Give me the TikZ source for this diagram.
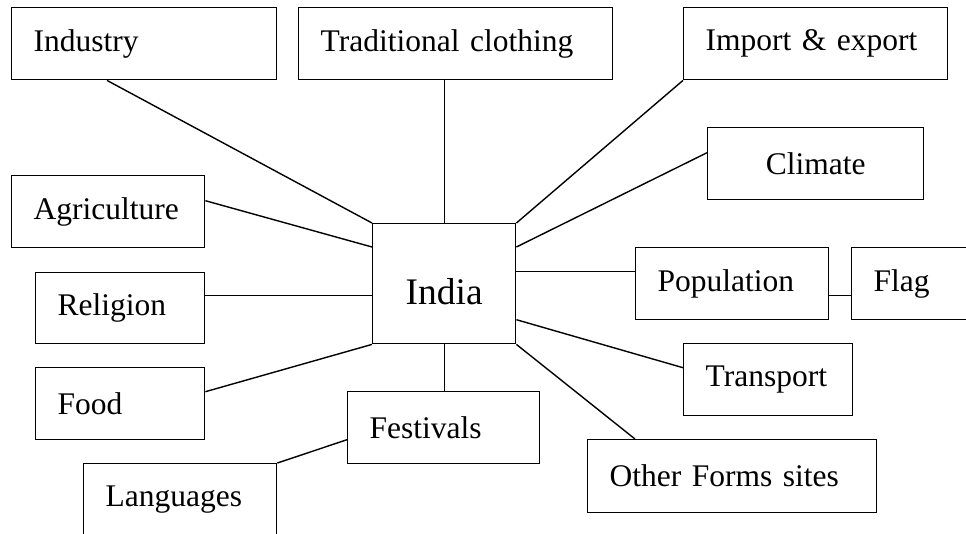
\documentclass[tikz,border=0pt]{standalone}
\usepackage{fontspec}
\setmainfont{Liberation Serif}
\usetikzlibrary{positioning}

\tikzset{
  box/.style={draw, line width=1.4pt, anchor=north west, minimum height=72pt,
    inner xsep=22pt, inner ysep=0pt, align=left,
    font=\fontsize{31.5}{38}\selectfont},
  link/.style={line width=1.4pt}
}

\begin{document}
\begin{tikzpicture}[x=1pt, y=-1pt]

\useasboundingbox (0,0) rectangle (966,533);

% Centre
\node[box, minimum width=143pt, minimum height=120pt, inner xsep=0pt, align=center,
  text height=42pt, text depth=0pt,
  font=\fontsize{37.5}{44}\selectfont] (india) at (372,223) {India};

% Topics round the centre
\node[box, text width=221pt] (industry) at (11,7) {Industry};
\node[box, text width=270pt] (clothing) at (298,7) {Traditional clothing};
\node[box, text width=220pt] (import) at (683,7) {Import \& export};
\node[box, text width=216pt, inner xsep=0pt, align=center] (climate) at (707,127) {Climate};
\node[box, text width=149pt] (agriculture) at (11,175) {Agriculture};
\node[box, text width=125pt, minimum height=71pt] (religion) at (35,272) {Religion};
\node[box, text width=149pt] (population) at (635,247) {Population};
\node[box, text width=106pt] (flag) at (851,247) {Flag};
\node[box, text width=125pt] (transport) at (683,343) {Transport};
\node[box, text width=125pt] (food) at (35,367) {Food};
\node[box, text width=148pt] (festivals) at (347,391) {Festivals};
\node[box, text width=245pt, minimum height=73pt] (other) at (587,439) {Other Forms sites};
\node[box, text width=149pt] (languages) at (83,463) {Languages};

% Links
\draw[link] ([xshift=96pt]industry.south west) -- (india.north west);
\draw[link] (india.north) -- (india.north |- clothing.south);
\draw[link] (import.south west) -- (india.north east);
\draw[link] ([yshift=11pt]climate.west) -- ([yshift=-24pt]india.north east);
\draw[link] ([yshift=11pt]agriculture.east) -- ([yshift=-24pt]india.north west);
\coordinate (rel) at ([yshift=-12pt]india.west);
\draw[link] (rel) -- (rel -| religion.east);
\draw[link] ([yshift=12pt]food.east) -- (india.south west);
\draw[link] (india.south) -- (india.south |- festivals.north);
\draw[link] (languages.north east) -- ([yshift=-12pt]festivals.west);
\coordinate (pop) at ([yshift=12pt]india.east);
\draw[link] (pop) -- (pop -| population.west);
\draw[link] ([yshift=-12pt]population.east) -- ([yshift=-12pt]flag.west);
\draw[link] ([yshift=-36pt]india.east) -- ([yshift=12pt]transport.west);
\draw[link] (india.south east) -- ([xshift=48pt]other.north west);

\end{tikzpicture}
\end{document}
